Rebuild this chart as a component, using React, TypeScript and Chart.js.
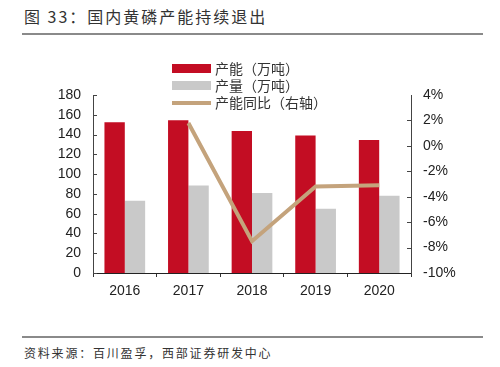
import React, { useEffect, useRef } from "react";
import { Chart, registerables } from "chart.js";

Chart.register(...registerables);

const categories = ["2016", "2017", "2018", "2019", "2020"];
const capacity = [152.5, 154.5, 143.5, 139, 134.5];
const output = [73, 88.5, 81, 65, 78];
const capacityYoY = [null, 1.8, -7.5, -3.2, -3.1];
const leftTicks = [0, 20, 40, 60, 80, 100, 120, 140, 160, 180];
const rightTicks = [-10, -8, -6, -4, -2, 0, 2, 4];

const RED = "#C30D23";
const GRAY = "#C9C9C9";
const TAN = "#C4A37C";
const CJK = '"Noto Sans CJK SC", "Noto Sans", sans-serif';
const LAT = '"Liberation Sans", Arial, sans-serif';

const innerTicks = {
  id: "innerTicks",
  afterDraw(chart: any) {
    const ctx = chart.ctx;
    const area = chart.chartArea;
    ctx.save();
    ctx.strokeStyle = "#444";
    ctx.lineWidth = 1;
    const yl = chart.scales.y;
    leftTicks.forEach((v) => {
      const y = Math.round(yl.getPixelForValue(v)) + 0.5;
      ctx.beginPath();
      ctx.moveTo(area.left, y);
      ctx.lineTo(area.left + 4, y);
      ctx.stroke();
    });
    const yr = chart.scales.y1;
    rightTicks.forEach((v) => {
      if (v === 4 || v === -10) return;
      const y = Math.round(yr.getPixelForValue(v)) + 0.5;
      ctx.beginPath();
      ctx.moveTo(area.right - 4, y);
      ctx.lineTo(area.right, y);
      ctx.stroke();
    });
    ctx.restore();
  },
};

function ChartBox() {
  const ref = useRef<HTMLCanvasElement>(null);
  useEffect(() => {
    const chart = new Chart(ref.current as HTMLCanvasElement, {
      data: {
        labels: categories,
        datasets: [
          {
            type: "line",
            label: "产能同比（右轴）",
            data: capacityYoY,
            yAxisID: "y1",
            borderColor: TAN,
            borderWidth: 4,
            pointRadius: 0,
            tension: 0,
            order: 0,
          } as any,
          {
            type: "bar",
            label: "产能（万吨）",
            data: capacity,
            backgroundColor: RED,
            yAxisID: "y",
            categoryPercentage: 0.64,
            barPercentage: 1.0,
            order: 1,
          },
          {
            type: "bar",
            label: "产量（万吨）",
            data: output,
            backgroundColor: GRAY,
            yAxisID: "y",
            categoryPercentage: 0.64,
            barPercentage: 1.0,
            order: 1,
          },
        ],
      },
      options: {
        animation: false,
        responsive: false,
        maintainAspectRatio: false,
        layout: { padding: { top: 45, left: 0, right: 0, bottom: 0 } },
        plugins: { legend: { display: false }, tooltip: { enabled: false } },
        scales: {
          x: {
            offset: true,
            grid: {
              display: true,
              drawOnChartArea: false,
              drawTicks: true,
              tickLength: 4,
              color: "#333",
              offset: true,
            },
            border: { display: true, color: "#222", width: 1 },
            ticks: { color: "#222", font: { family: LAT, size: 14 }, padding: 6 },
            afterFit: (s: any) => {
              s.height = 37;
            },
          },
          y: {
            position: "left",
            min: 0,
            max: 180,
            afterBuildTicks: (s: any) => {
              s.ticks = leftTicks.map((v) => ({ value: v }));
            },
            ticks: {
              stepSize: 20,
              autoSkip: false,
              color: "#222",
              font: { family: LAT, size: 14 },
              padding: 12,
            },
            grid: { display: false, drawTicks: false },
            border: { display: true, color: "#444", width: 1 },
            afterFit: (s: any) => {
              s.width = 93;
            },
          },
          y1: {
            position: "right",
            min: -10,
            max: 4,
            afterBuildTicks: (s: any) => {
              s.ticks = rightTicks.map((v) => ({ value: v }));
            },
            ticks: {
              stepSize: 2,
              autoSkip: false,
              color: "#222",
              font: { family: LAT, size: 14 },
              padding: 12,
              callback: (v: any) => v + "%",
            },
            grid: { display: false, drawTicks: false },
            border: { display: true, color: "#444", width: 1 },
            afterFit: (s: any) => {
              s.width = 89;
            },
          },
        },
      },
      plugins: [innerTicks],
    });
    return () => chart.destroy();
  }, []);
  return (
    <canvas
      ref={ref}
      width={500}
      height={260}
      style={{ position: "absolute", left: 0, top: 50, width: 500, height: 260 }}
    />
  );
}

const legendItems = [
  { label: "产能（万吨）", color: RED, kind: "box" },
  { label: "产量（万吨）", color: GRAY, kind: "box" },
  { label: "产能同比（右轴）", color: TAN, kind: "line" },
];

export default function App() {
  return (
    <div
      style={{
        position: "absolute",
        left: 0,
        top: 0,
        width: 500,
        height: 367,
        background: "#fff",
        overflow: "hidden",
      }}
    >
      <div
        style={{
          position: "absolute",
          left: 24,
          top: 4,
          fontFamily: CJK,
          fontSize: 16,
          color: "#333",
          whiteSpace: "nowrap",
          letterSpacing: 2,
        }}
      >
        图 33：国内黄磷产能持续退出
      </div>
      <div style={{ position: "absolute", left: 22, top: 33, width: 461, height: 2, background: "#8a8a8a" }} />
      <ChartBox />
      {legendItems.map((it, i) => (
        <div
          key={i}
          style={{
            position: "absolute",
            left: 172,
            top: 60 + i * 17,
            height: 17,
            display: "flex",
            alignItems: "center",
            whiteSpace: "nowrap",
          }}
        >
          <div
            style={{
              width: 39,
              height: it.kind === "box" ? 9 : 4,
              background: it.color,
              marginRight: 4,
            }}
          />
          <span style={{ fontFamily: CJK, fontSize: 14, color: "#333", lineHeight: "17px" }}>{it.label}</span>
        </div>
      ))}
      <div style={{ position: "absolute", left: 22, top: 336, width: 461, height: 1.5, background: "#8a8a8a" }} />
      <div
        style={{
          position: "absolute",
          left: 24,
          top: 344,
          fontFamily: CJK,
          fontSize: 12,
          color: "#333",
          whiteSpace: "nowrap",
          letterSpacing: 1.8,
        }}
      >
        资料来源：百川盈孚，西部证券研发中心
      </div>
    </div>
  );
}
